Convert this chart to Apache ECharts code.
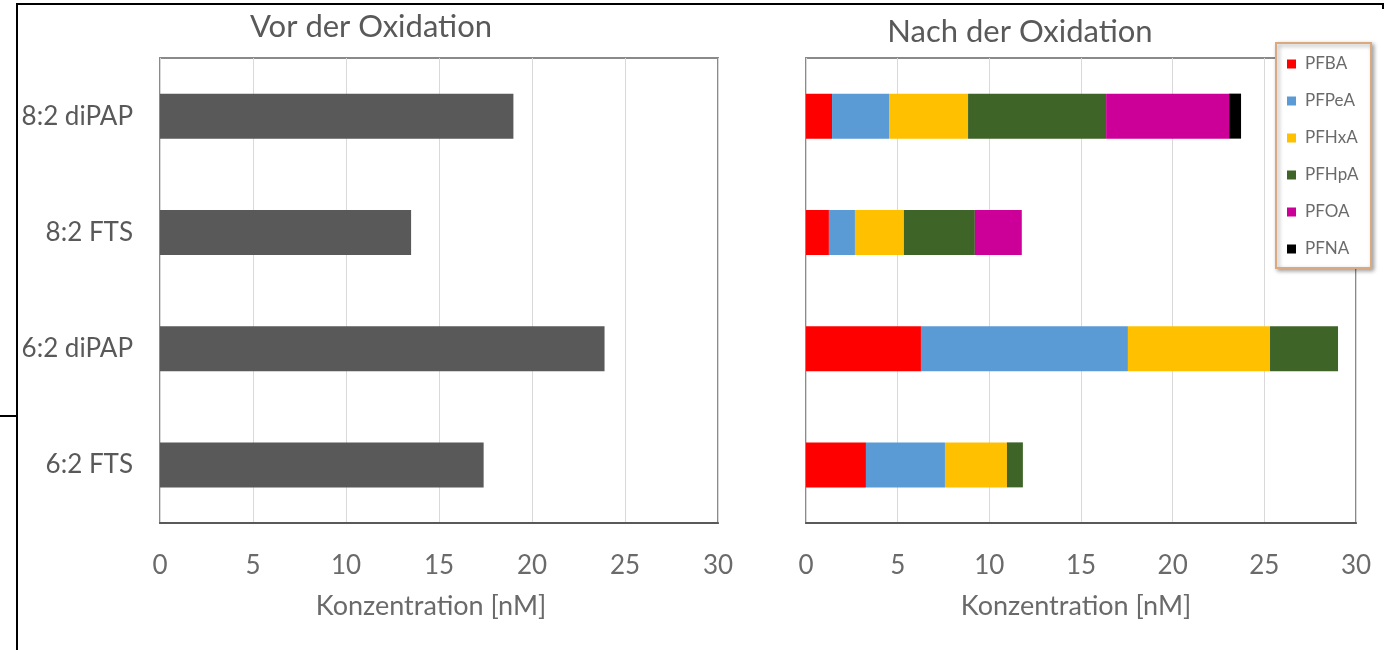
<!DOCTYPE html>
<html>
<head>
<meta charset="utf-8">
<script src="https://cdn.jsdelivr.net/npm/echarts@6/dist/echarts.min.js"></script>
<style>
html,body{margin:0;padding:0;background:#fff;}
#chart{width:1386px;height:650px;}
</style>
</head>
<body>
<div id="chart"></div>
<script>
// ---- data ----
const categories = ['8:2 diPAP', '8:2 FTS', '6:2 diPAP', '6:2 FTS'];
const vorValues = [19.0, 13.5, 23.9, 17.4];
const seriesNames = ['PFBA', 'PFPeA', 'PFHxA', 'PFHpA', 'PFOA', 'PFNA'];
const PFBA  = [1.42, 1.25, 6.27, 3.27];
const PFPeA = [3.11, 1.42, 11.29, 4.31];
const PFHxA = [4.31, 2.67, 7.75, 3.38];
const PFHpA = [7.53, 3.87, 3.71, 0.87];
const PFOA  = [6.71, 2.56, 0, 0];
const PFNA  = [0.65, 0, 0, 0];
const xMin = 0, xMax = 30, xInterval = 5;
const titleLeft = 'Vor der Oxidation';
const titleRight = 'Nach der Oxidation';
const axisName = 'Konzentration [nM]';

const nachData = [PFBA, PFPeA, PFHxA, PFHpA, PFOA, PFNA];
const colors = ['#ff0000', '#5b9bd5', '#ffc000', '#3f6428', '#cc0099', '#000000'];

const FONT = 'Lato';
const TXT = '#595959';

function xAxisDef(gi, shift) {
  return {
    type: 'value', gridIndex: gi, min: xMin, max: xMax, interval: xInterval,
    axisLine: {show: true, lineStyle: {color: '#595959', width: 2}},
    axisTick: {show: false},
    axisLabel: {color: '#6a6a6a', fontFamily: FONT, fontSize: 26, margin: 30},
    splitLine: {show: true, lineStyle: {color: '#d9d9d9', width: 1}},
    name: axisName, nameLocation: 'middle', nameGap: 70,
    nameTextStyle: {color: '#6a6a6a', fontFamily: FONT, fontSize: 27, padding: [0, shift, 0, 0]}
  };
}

const chart = echarts.init(document.getElementById('chart'), null, {renderer: 'canvas'});
const series = [{
  type: 'bar', xAxisIndex: 0, yAxisIndex: 0, data: vorValues, barWidth: 45,
  itemStyle: {color: '#595959'}, silent: true
}];
seriesNames.forEach((n, i) => {
  series.push({
    name: n, type: 'bar', stack: 'nach', xAxisIndex: 1, yAxisIndex: 1,
    data: nachData[i], barWidth: 45, itemStyle: {color: colors[i]}, silent: true
  });
});

chart.setOption({
  animation: false,
  backgroundColor: '#ffffff',
  grid: [
    {left: 160, right: 668, top: 58, bottom: 127, show: true, borderColor: '#8a8a8a', borderWidth: 2, containLabel: false},
    {left: 806, right: 30, top: 58, bottom: 127, show: true, borderColor: '#8a8a8a', borderWidth: 2, containLabel: false}
  ],
  xAxis: [xAxisDef(0, 16), xAxisDef(1, 10)],
  yAxis: [
    {type: 'category', gridIndex: 0, data: categories, inverse: true,
     axisLine: {show: false}, axisTick: {show: false},
     axisLabel: {color: TXT, fontFamily: FONT, fontSize: 26, margin: 27}},
    {type: 'category', gridIndex: 1, data: categories, inverse: true,
     axisLine: {show: false}, axisTick: {show: false}, axisLabel: {show: false}}
  ],
  legend: {
    data: seriesNames, orient: 'vertical', left: 1276, top: 43,
    padding: [12, 6, 10, 11], itemGap: 19, itemWidth: 9, itemHeight: 9,
    icon: 'rect', selectedMode: false,
    backgroundColor: '#ffffff', borderColor: '#d9a97f', borderWidth: 2,
    shadowColor: 'rgba(0,0,0,0.35)', shadowBlur: 4, shadowOffsetX: 2, shadowOffsetY: 2,
    textStyle: {color: '#6a6a6a', fontFamily: FONT, fontSize: 17, lineHeight: 18, width: 60, padding: [0, 0, 0, 4]}
  },
  graphic: [
    {type: 'text', x: 371, y: 27, style: {text: titleLeft, fill: TXT, font: '31px Lato', textAlign: 'center', textVerticalAlign: 'middle'}},
    {type: 'text', x: 1020, y: 32, style: {text: titleRight, fill: TXT, font: '31px Lato', textAlign: 'center', textVerticalAlign: 'middle'}},
    {type: 'polyline', shape: {points: [[17, 650], [17, 4], [1383, 4], [1383, 9]]}, style: {stroke: '#000', lineWidth: 2, fill: null}},
    {type: 'line', shape: {x1: 0, y1: 416, x2: 17, y2: 416}, style: {stroke: '#000', lineWidth: 2}}
  ],
  series: series
});
</script>
</body>
</html>
